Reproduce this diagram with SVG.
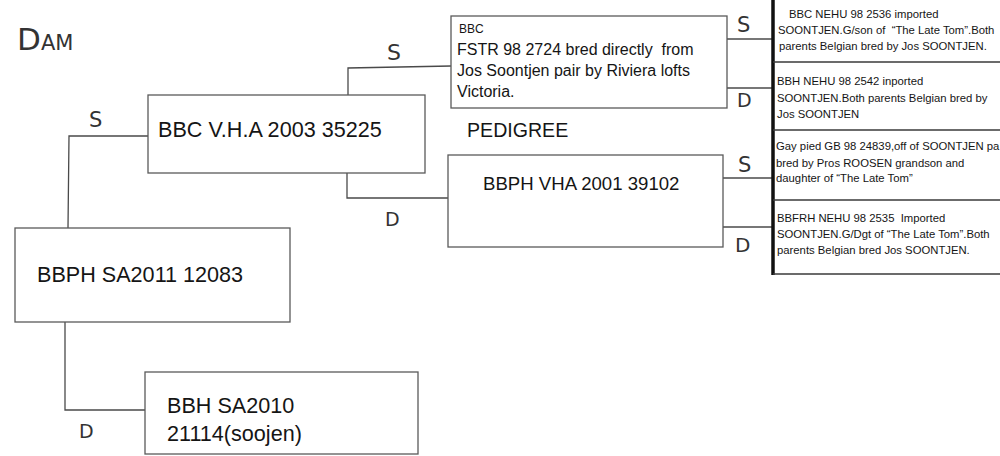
<svg xmlns="http://www.w3.org/2000/svg" width="1000" height="456" viewBox="0 0 1000 456">
<style>
.bg{fill:#ffffff}
.box{fill:none;stroke:#5a5a5a;stroke-width:1.3}
.ln{fill:none;stroke:#4a4a4a;stroke-width:1.3}
.t{font-family:"Liberation Sans",Arial,sans-serif;fill:#151515}
.big{font-size:21.6px}
.mid{font-size:18.6px}
.fs{font-size:16px}
.sm{font-size:11.3px}
.hand{font-family:"DejaVu Sans","Liberation Sans",sans-serif;fill:#333333;font-weight:normal}
.col{fill:none;stroke:#111;stroke-width:3.5}
.div{fill:none;stroke:#3a3a3a;stroke-width:1.4}
</style>
<rect class="bg" x="0" y="0" width="1000" height="456"/>

<g id="title">
<text class="hand" x="17" y="50"><tspan font-size="31">D</tspan><tspan font-size="21">AM</tspan></text>
</g>

<g id="connectors">
<polyline class="ln" points="68,228 69,136 148,136"/>
<polyline class="ln" points="65,322 65,410 145,410"/>
<polyline class="ln" points="348,95 348,68 451,66"/>
<polyline class="ln" points="347,173 347,198 448,198"/>
<line class="ln" x1="727" y1="39" x2="772" y2="39"/>
<line class="ln" x1="727" y1="88" x2="772" y2="88"/>
<line class="ln" x1="723" y1="178" x2="772" y2="178"/>
<line class="ln" x1="723" y1="227" x2="772" y2="227"/>
<text class="hand" x="89" y="127" font-size="21">S</text>
<text class="hand" x="387" y="60" font-size="22">S</text>
<text class="hand" x="385" y="226" font-size="19">D</text>
<text class="hand" x="737" y="32" font-size="21">S</text>
<text class="hand" x="737" y="107" font-size="19">D</text>
<text class="hand" x="738" y="172" font-size="21">S</text>
<text class="hand" x="735" y="252" font-size="20">D</text>
<text class="hand" x="79" y="438" font-size="19">D</text>
</g>

<g id="node-bbph-sa2011">
<rect class="box" x="15" y="228" width="275" height="94"/>
<text class="t big" x="37" y="282">BBPH SA2011 12083</text>
</g>

<g id="node-bbc-vha">
<rect class="box" x="148" y="95" width="277" height="78"/>
<text class="t big" x="158" y="137" font-size="21.8">BBC V.H.A 2003 35225</text>
</g>

<g id="node-bbh-sa2010">
<rect class="box" x="145" y="372" width="273" height="82"/>
<text class="t big" x="167" y="413">BBH SA2010</text>
<text class="t big" x="167" y="441">21114(soojen)</text>
</g>

<g id="node-fstr">
<rect class="box" x="451" y="16" width="276" height="92"/>
<text class="t" x="459" y="33" font-size="12">BBC</text>
<text class="t fs" x="457" y="55" xml:space="preserve">FSTR 98 2724 bred directly  from</text>
<text class="t fs" x="457" y="76">Jos Soontjen pair by Riviera lofts</text>
<text class="t fs" x="457" y="97">Victoria.</text>
</g>

<g id="label-pedigree">
<text class="t" x="467" y="137" font-size="19.6">PEDIGREE</text>
</g>

<g id="node-bbph-vha">
<rect class="box" x="448" y="155" width="275" height="92"/>
<text class="t mid" x="483" y="190">BBPH VHA 2001 39102</text>
</g>

<g id="column">
<line class="col" x1="773" y1="0" x2="773" y2="275"/>
<line class="div" x1="773" y1="62" x2="1000" y2="62"/>
<line class="div" x1="773" y1="130" x2="1000" y2="130"/>
<line class="div" x1="773" y1="200" x2="1000" y2="200"/>
<line class="div" x1="773" y1="274" x2="1000" y2="274" stroke-width="1.8"/>
</g>

<g id="node-nehu-2536">
<text class="t sm" x="789" y="18">BBC NEHU 98 2536 imported</text>
<text class="t sm" x="778" y="34" xml:space="preserve">SOONTJEN.G/son of  “The Late Tom”.Both</text>
<text class="t sm" x="779" y="50">parents Belgian bred by Jos SOONTJEN.</text>
</g>

<g id="node-nehu-2542">
<text class="t sm" x="777" y="85">BBH NEHU 98 2542 inported</text>
<text class="t sm" x="777" y="102">SOONTJEN.Both parents Belgian bred by</text>
<text class="t sm" x="777" y="118">Jos SOONTJEN</text>
</g>

<g id="node-gb-24839">
<text class="t sm" x="776" y="150">Gay pied GB 98 24839,off of SOONTJEN pa</text>
<text class="t sm" x="776" y="167">bred by Pros ROOSEN grandson and</text>
<text class="t sm" x="776" y="182">daughter of “The Late Tom”</text>
</g>

<g id="node-nehu-2535">
<text class="t sm" x="777" y="222" xml:space="preserve">BBFRH NEHU 98 2535  Imported</text>
<text class="t sm" x="777" y="238">SOONTJEN.G/Dgt of “The Late Tom”.Both</text>
<text class="t sm" x="777" y="254">parents Belgian bred Jos SOONTJEN.</text>
</g>
</svg>
